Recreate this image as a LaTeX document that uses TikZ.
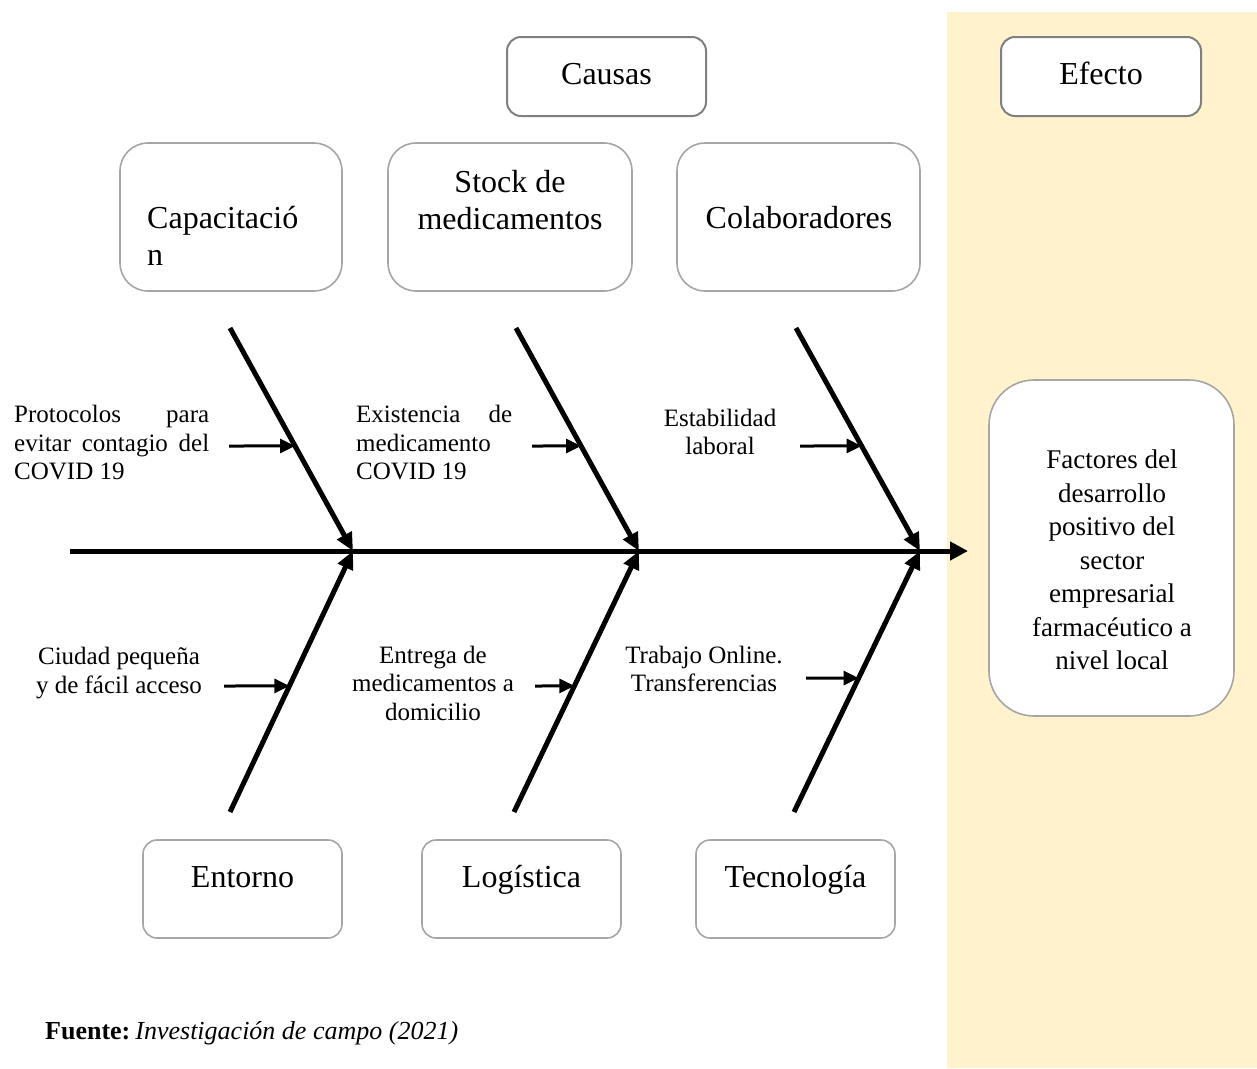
\documentclass[tikz,border=0pt]{standalone}
\usepackage{fontspec}
\setmainfont{Liberation Serif}
\usetikzlibrary{arrows.meta,calc}
\definecolor{effbg}{HTML}{FFF2CC}
\definecolor{boxgray}{HTML}{A6A6A6}
\definecolor{boxdark}{HTML}{808080}
\tikzset{
  hdrbox/.style={draw=boxdark, line width=2pt, rounded corners=14pt, fill=white, inner sep=0pt},
  catbox/.style={draw=boxgray, line width=1.6pt, rounded corners=28pt, fill=white, inner sep=0pt},
  botbox/.style={draw=boxgray, line width=1.6pt, rounded corners=14pt, fill=white, inner sep=0pt},
  bigtxt/.style={font=\fontsize{32}{37}\selectfont, inner sep=0pt},
  smalltxt/.style={font=\fontsize{25}{28.5}\selectfont, inner sep=0pt},
  efftxt/.style={font=\fontsize{27}{33.5}\selectfont, inner sep=0pt, align=center},
  bone/.style={line width=5pt, -{Triangle[length=18pt,width=16pt]}},
  spine/.style={line width=5pt, -{Triangle[length=18pt,width=18pt]}},
  sub/.style={line width=3pt, -{Triangle[length=15pt,width=14pt]}}
}
\begin{document}
\begin{tikzpicture}[x=1pt,y=-1pt]
\useasboundingbox (0,0) rectangle (1257,1068);
\fill[effbg] (947,12) rectangle (1257,1068);

% header boxes
\node[hdrbox, minimum width=199pt, minimum height=79pt] (causasbox) at (606.5,76.5) {};
\node[bigtxt, anchor=base] (causas) at (606.5,84) {Causas};
\node[hdrbox, minimum width=200pt, minimum height=79pt] (efectobox) at (1101,76.5) {};
\node[bigtxt, anchor=base] (efecto) at (1101,84) {Efecto};

% category boxes top
\node[catbox, minimum width=222pt, minimum height=148pt] (capbox) at (231,217) {};
\node[bigtxt, anchor=west, align=left] (cap) at (147,236) {Capacitació\\n};
\node[catbox, minimum width=244pt, minimum height=148pt] (stockbox) at (510,217) {};
\node[bigtxt, align=center] (stock) at (510,200) {Stock de\\medicamentos};
\node[catbox, minimum width=243pt, minimum height=148pt] (colbox) at (798.5,217) {};
\node[bigtxt] (col) at (799,218) {Colaboradores};

% category boxes bottom
\node[botbox, minimum width=199pt, minimum height=98pt] (entbox) at (242.5,889) {};
\node[bigtxt, anchor=base] (ent) at (242.5,887) {Entorno};
\node[botbox, minimum width=199pt, minimum height=98pt] (logbox) at (521.5,889) {};
\node[bigtxt, anchor=base] (log) at (521.5,887) {Logística};
\node[botbox, minimum width=199pt, minimum height=98pt] (tecbox) at (795.5,889) {};
\node[bigtxt, anchor=base] (tec) at (795.5,887) {Tecnología};

% effect box
\node[catbox, rounded corners=45pt, minimum width=245pt, minimum height=336pt] (effbox) at (1111.5,548) {};
\node[efftxt] (eff) at (1112,560) {Factores del\\desarrollo\\positivo del\\sector\\empresarial\\farmacéutico a\\nivel local};

% skeleton coordinates
\coordinate (s0) at (70,551);
\coordinate (s1) at (968,551);
\coordinate (t1) at (230,328); \coordinate (j1) at (353,551); \coordinate (b1) at (230,812);
\coordinate (t2) at (516,328); \coordinate (j2) at (639,551); \coordinate (b2) at (514,812);
\coordinate (t3) at (796,328); \coordinate (j3) at (920,551); \coordinate (b3) at (794,812);

\draw[bone] (t1) -- (j1);
\draw[bone] (t2) -- (j2);
\draw[bone] (t3) -- (j3);
\draw[bone] (b1) -- (j1);
\draw[bone] (b2) -- (j2);
\draw[bone] (b3) -- (j3);
\draw[spine] (s0) -- (s1);

% sub-cause texts
\node[smalltxt, anchor=west, align=left] (prot) at (14,443)
  {\makebox[195pt][s]{Protocolos para}\\\makebox[195pt][s]{evitar contagio del}\\COVID 19};
\node[smalltxt, anchor=west, align=left] (exis) at (356,443)
  {\makebox[156pt][s]{Existencia de}\\medicamento\\COVID 19};
\node[smalltxt, align=center] (estab) at (720,432) {Estabilidad\\laboral};
\node[smalltxt, align=center] (ciud) at (119,673) {Ciudad pequeña\\y de fácil acceso};
\node[smalltxt, align=center] (entr) at (433,683) {Entrega de\\medicamentos a\\domicilio};
\node[smalltxt, align=center] (trab) at (704,669) {Trabajo Online.\\Transferencias};

% sub-cause arrows
\coordinate (p1) at (229,446); \coordinate (q1) at ($(t1)!0.529!(j1)$);
\coordinate (p2) at (532,446); \coordinate (q2) at ($(t2)!0.529!(j2)$);
\coordinate (p3) at (800,446); \coordinate (q3) at ($(t3)!0.529!(j3)$);
\coordinate (p4) at (224,686); \coordinate (q4) at ($(b1)!0.483!(j1)$);
\coordinate (p5) at (535,686); \coordinate (q5) at ($(b2)!0.483!(j2)$);
\coordinate (p6) at (806,678); \coordinate (q6) at ($(b3)!0.513!(j3)$);
\draw[sub] (p1) -- (q1);
\draw[sub] (p2) -- (q2);
\draw[sub] (p3) -- (q3);
\draw[sub] (p4) -- (q4);
\draw[sub] (p5) -- (q5);
\draw[sub] (p6) -- (q6);

% source
\node[anchor=west, inner sep=0pt, font=\fontsize{26}{30}\selectfont] (fuente) at (45,1033)
  {\textbf{Fuente:}\hspace{5pt}\textit{Investigación de campo (2021)}};
\end{tikzpicture}
\end{document}
